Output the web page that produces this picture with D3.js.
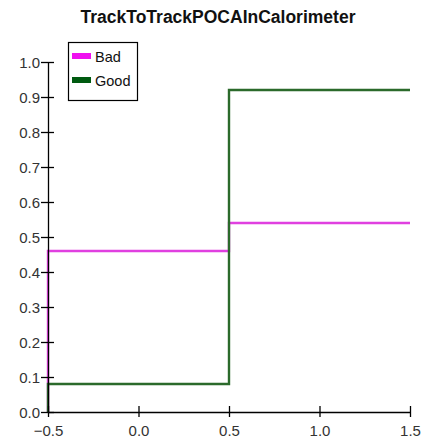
<!DOCTYPE html>
<html>
<head>
<meta charset="utf-8">
<script src="https://cdn.jsdelivr.net/npm/d3@7"></script>
<style>
  html, body { margin: 0; padding: 0; background: #fff; }
  svg { display: block; font-family: "Liberation Sans", Arial, sans-serif; }
</style>
</head>
<body>
<svg id="chart" width="421" height="440"></svg>
<script>
// Histogram bin edges and normalised contents per category
const binEdges = [-0.5, 0.5, 1.5];
const seriesNames = ["Bad", "Good"];
const badValues = [0.46, 0.54];
const goodValues = [0.08, 0.92];
const xTicks = [-0.5, 0.0, 0.5, 1.0, 1.5];
const yTicks = [0.0, 0.1, 0.2, 0.3, 0.4, 0.5, 0.6, 0.7, 0.8, 0.9, 1.0];

const lineColors = { Bad: "#e040e0", Good: "#2b6a2b" };
const swatchColors = { Bad: "#f010f0", Good: "#005a10" };

const svg = d3.select("#chart");
const margin = { left: 48, right: 11, top: 62, bottom: 28 };
const W = 421, H = 440;

const x = d3.scaleLinear().domain([-0.5, 1.5]).range([margin.left, W - margin.right]);
const y = d3.scaleLinear().domain([0, 1]).range([H - margin.bottom, margin.top]);

// Title
svg.append("text")
  .attr("x", 218).attr("y", 23)
  .attr("text-anchor", "middle")
  .style("font-size", "17.5px").style("font-weight", "bold")
  .attr("fill", "#111")
  .text("TrackToTrackPOCAInCalorimeter");

// Step outline of a histogram: rises from zero at the first edge, no drop at the last
function stepPoints(vals) {
  const pts = [[binEdges[0], 0]];
  vals.forEach((v, i) => {
    pts.push([binEdges[i], v]);
    pts.push([binEdges[i + 1], v]);
  });
  return pts;
}
const line = d3.line().x(d => x(d[0])).y(d => y(d[1]));

const series = [
  { name: "Bad", values: badValues },
  { name: "Good", values: goodValues }
];

svg.append("g").selectAll("path")
  .data(series)
  .join("path")
  .attr("d", d => line(stepPoints(d.values)))
  .attr("fill", "none")
  .attr("stroke", d => lineColors[d.name])
  .attr("stroke-width", 2.4)
  .attr("stroke-linejoin", "miter");

// Axes: ticks cross the axis line
const labelFont = "'Liberation Sans', Arial, sans-serif";
const xAxis = svg.append("g").attr("transform", `translate(0,${y(0)})`)
  .call(d3.axisBottom(x).tickValues(xTicks).tickFormat(d3.format(".1f")).tickSizeInner(5).tickSizeOuter(0));
xAxis.attr("font-size", null).attr("font-family", null);
xAxis.selectAll(".tick line").attr("y1", -6).attr("y2", 5);
xAxis.selectAll("text").attr("y", 10).attr("dy", "0.95em")
  .style("font-size", "15px").style("font-family", labelFont)
  .attr("fill", "#333");

const yAxis = svg.append("g").attr("transform", `translate(${x(-0.5)},0)`)
  .call(d3.axisLeft(y).tickValues(yTicks).tickFormat(d3.format(".1f")).tickSizeInner(7).tickSizeOuter(0));
yAxis.attr("font-size", null).attr("font-family", null);
yAxis.selectAll(".tick line").attr("x1", -7).attr("x2", 6);
yAxis.selectAll("text").attr("x", -8).attr("dy", "0.35em")
  .style("font-size", "15px").style("font-family", labelFont)
  .attr("fill", "#333");

svg.selectAll(".domain").attr("stroke", "#000").attr("stroke-width", 1.3);
svg.selectAll(".tick line").attr("stroke", "#000").attr("stroke-width", 1.3);

// Legend
const legend = svg.append("g").attr("transform", "translate(68,42)");
legend.append("rect")
  .attr("x", 0.5).attr("y", 0.5).attr("width", 69).attr("height", 58)
  .attr("fill", "#fff").attr("stroke", "#000").attr("stroke-width", 1.2);
const items = legend.selectAll("g.item").data(seriesNames).join("g")
  .attr("class", "item")
  .attr("transform", (d, i) => `translate(4,${14 + i * 24})`);
items.append("rect")
  .attr("x", 0).attr("y", -3).attr("width", 19).attr("height", 6)
  .attr("fill", d => swatchColors[d]);
items.append("text")
  .attr("x", 23).attr("y", 5.5)
  .style("font-size", "14.5px")
  .attr("fill", "#111")
  .text(d => d);
</script>
</body>
</html>
